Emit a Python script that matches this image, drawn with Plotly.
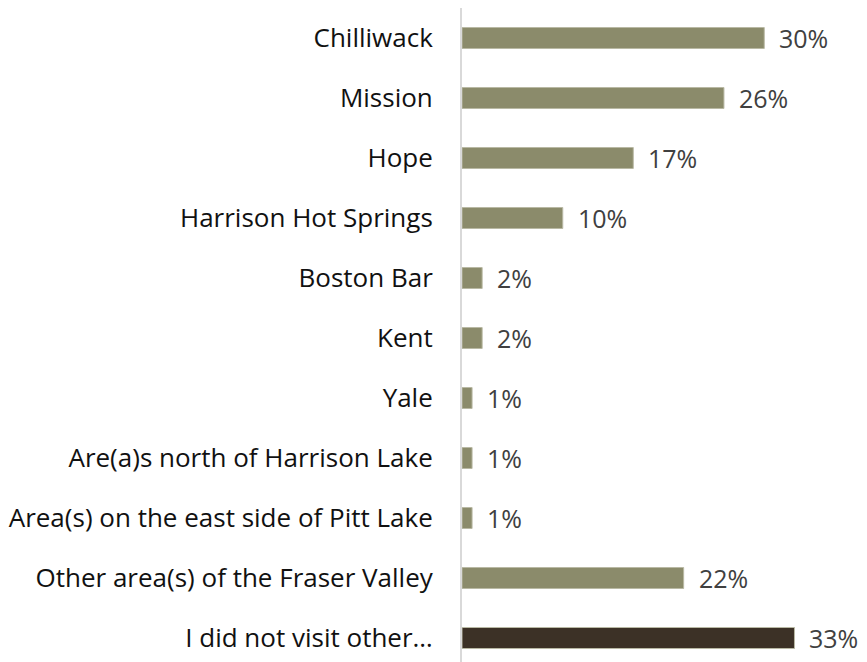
import plotly.graph_objects as go

# Share of respondents who visited each area (%)
categories = [
    "Chilliwack",
    "Mission",
    "Hope",
    "Harrison Hot Springs",
    "Boston Bar",
    "Kent",
    "Yale",
    "Are(a)s north of Harrison Lake",
    "Area(s) on the east side of Pitt Lake",
    "Other area(s) of the Fraser Valley",
    "I did not visit other…",
]
values = [30, 26, 17, 10, 2, 2, 1, 1, 1, 22, 33]
value_labels = [f"{v}%" for v in values]

BAR = "#8b8b6b"
DARK = "#3c3126"
colors = [BAR] * (len(values) - 1) + [DARK]

FONT = "Open Sans"

fig = go.Figure(
    go.Bar(
        y=categories,
        x=values,
        orientation="h",
        marker=dict(color=colors, line=dict(color="#b9b9a4", width=1)),
        width=0.35,
        hoverinfo="skip",
    )
)

for cat, v, lab in zip(categories, values, value_labels):
    fig.add_annotation(
        x=v, y=cat, text=lab, showarrow=False,
        xanchor="left", yanchor="middle", xshift=13, yshift=0,
        font=dict(family=FONT, size=25, color="#404040"),
    )

fig.update_layout(
    width=867,
    height=662,
    margin=dict(l=462, r=2, t=8, b=0),
    paper_bgcolor="white",
    plot_bgcolor="white",
    showlegend=False,
    xaxis=dict(range=[0, 40], visible=False, fixedrange=True),
    yaxis=dict(
        categoryorder="array",
        categoryarray=categories,
        range=[10.4, -0.5],
        showline=True,
        linecolor="#d9d9d9",
        linewidth=2,
        ticks="",
        showgrid=False,
        ticklabelstandoff=22,
        tickfont=dict(family=FONT, size=26, color="#111111"),
    ),
)

fig.write_html("out.html")
